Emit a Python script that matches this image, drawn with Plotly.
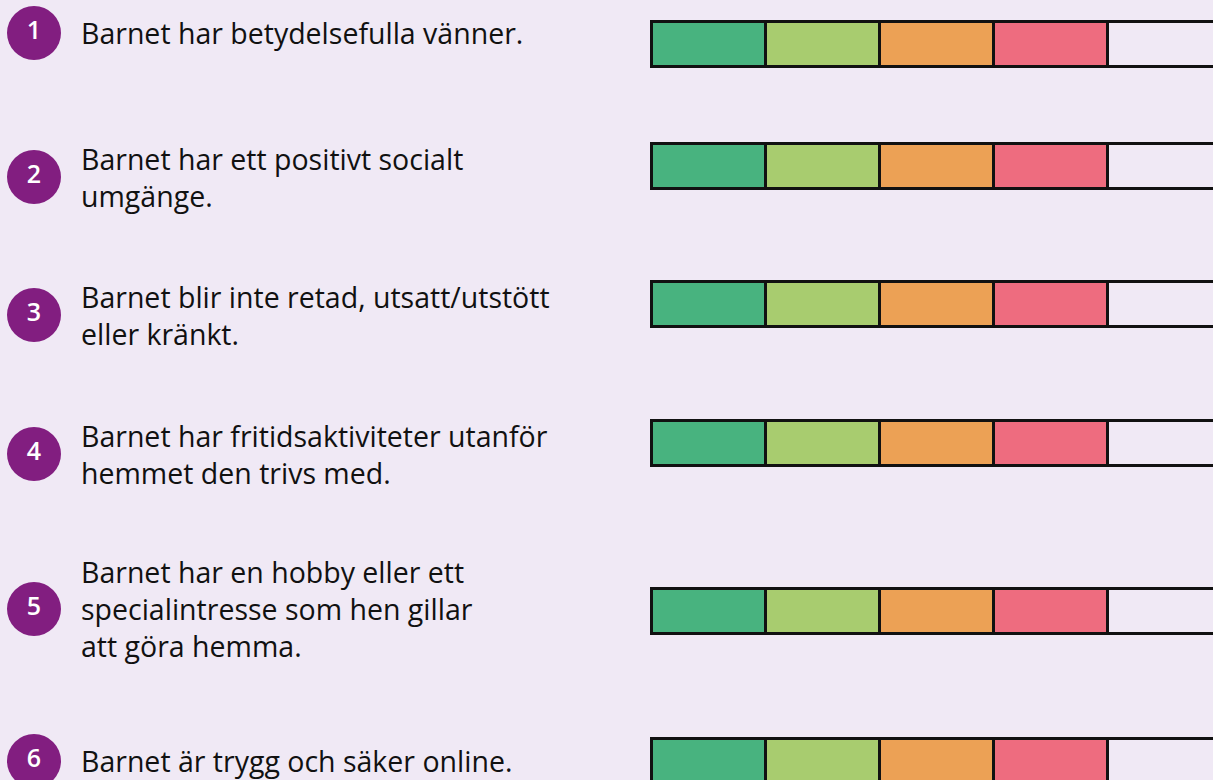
import plotly.graph_objects as go

# ---- data ----
numbers = ["1", "2", "3", "4", "5", "6"]
statements = [
    "Barnet har betydelsefulla vänner.",
    "Barnet har ett positivt socialt<br>umgänge.",
    "Barnet blir inte retad, utsatt/utstött<br>eller kränkt.",
    "Barnet har fritidsaktiviteter utanför<br>hemmet den trivs med.",
    "Barnet har en hobby eller ett<br>specialintresse som hen gillar<br>att göra hemma.",
    "Barnet är trygg och säker online.",
]
scale_levels = ["Nivå 1", "Nivå 2", "Nivå 3", "Nivå 4", "Nivå 5"]
level_values = [[1, 1, 1, 1, 1, 1] for _ in scale_levels]

# ---- layout / style ----
W, H = 1213, 780
BG = "#F0E9F5"
level_colors = ["#48B37F", "#A8CC6F", "#ECA155", "#EE6C7F", BG]
bar_rows_px = [44, 166, 304, 443, 611, 761]
label_rows_px = [33, 177, 315, 454, 609, 761]
bar_left_px, seg_px, bar_h_px = 652, 114, 45
circle_x_px, text_x_px = 34, 79

fig = go.Figure()
for name, vals, col in zip(scale_levels, level_values, level_colors):
    fig.add_trace(go.Bar(
        x=vals, y=bar_rows_px, orientation="h", name=name, width=bar_h_px,
        marker=dict(color=col, line=dict(color="#111111", width=3)),
        hoverinfo="skip",
    ))

fig.add_trace(go.Scatter(
    x=[circle_x_px] * len(numbers), y=label_rows_px, xaxis="x2",
    mode="markers+text", text=numbers, textposition="middle center",
    marker=dict(size=54, color="#821E80", line=dict(width=0)),
    textfont=dict(family="Open Sans", size=25, color="white", weight=600),
    hoverinfo="skip", cliponaxis=False,
))

for txt, yv in zip(statements, label_rows_px):
    fig.add_annotation(
        text=txt, x=text_x_px / W, xref="paper", y=yv, yref="y",
        xanchor="left", yanchor="middle", align="left", showarrow=False,
        font=dict(family="Open Sans", size=28.5, color="#111111"),
    )

fig.update_layout(
    width=W, height=H, barmode="stack", showlegend=False,
    margin=dict(l=0, r=0, t=0, b=0),
    paper_bgcolor=BG, plot_bgcolor=BG,
    xaxis=dict(range=[-bar_left_px / seg_px, (W - bar_left_px) / seg_px],
               visible=False, fixedrange=True),
    xaxis2=dict(range=[0, W], overlaying="x", visible=False, fixedrange=True),
    yaxis=dict(range=[H, 0], visible=False, fixedrange=True),
    bargap=0,
)

fig.write_html("out.html", config={"displayModeBar": False},
               post_script="document.body.style.margin='0';")
